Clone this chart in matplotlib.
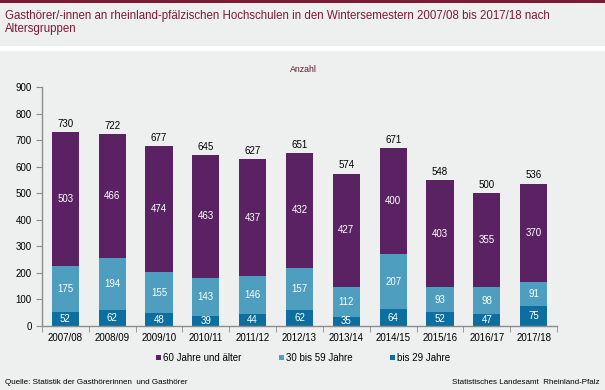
import matplotlib
matplotlib.use("Agg")
import matplotlib.pyplot as plt
import numpy as np
from matplotlib.patches import Rectangle

plt.rcParams['font.family'] = ['Liberation Sans', 'DejaVu Sans']

semesters = ["2007/08", "2008/09", "2009/10", "2010/11", "2011/12", "2012/13",
             "2013/14", "2014/15", "2015/16", "2016/17", "2017/18"]
bis29 = [52, 62, 48, 39, 44, 62, 35, 64, 52, 47, 75]
von30bis59 = [175, 194, 155, 143, 146, 157, 112, 207, 93, 98, 91]
ab60 = [503, 466, 474, 463, 437, 432, 427, 400, 403, 355, 370]
totals = [730, 722, 677, 645, 627, 651, 574, 671, 548, 500, 536]

BG = "#EEEFEF"
C_60 = "#5A2262"
C_30 = "#4E9EC0"
C_29 = "#0D6FA0"
TITLE_COLOR = "#7E1A35"
AXIS_GREY = "#8C8C8C"

fig = plt.figure(figsize=(6.05, 3.9), dpi=100, facecolor=BG)

# top band, white separator under the title
fig.patches.append(Rectangle((0, 1 - 2.5 / 390), 1, 2.5 / 390, transform=fig.transFigure,
                             facecolor="#7E1A35", edgecolor='none', zorder=0))
fig.patches.append(Rectangle((0, 1 - 51 / 390), 1, 5 / 390, transform=fig.transFigure,
                             facecolor="white", edgecolor='none', zorder=0))

fig.text(5 / 605, 1 - 16 / 390, "Gasthörer/-innen an rheinland-pfälzischen Hochschulen in den Wintersemestern 2007/08 bis 2017/18 nach",
         fontsize=8.3, color=TITLE_COLOR, ha='left', va='center')
fig.text(5 / 605, 1 - 29 / 390, "Altersgruppen", fontsize=8.3, color=TITLE_COLOR, ha='left', va='center')
fig.text(303 / 605, 1 - 70 / 390, "Anzahl", fontsize=6.3, color="#5A1A2A", ha='center', va='center')

ax = fig.add_axes([42 / 605, 1 - 326 / 390, (557 - 42) / 605, (326 - 87) / 390])
ax.set_facecolor(BG)

x = np.arange(len(semesters))
w = 0.58
b1 = ax.bar(x, bis29, w, color=C_29, label="bis 29 Jahre", zorder=2)
b2 = ax.bar(x, von30bis59, w, bottom=bis29, color=C_30, label="30 bis 59 Jahre", zorder=2)
bottom3 = np.array(bis29) + np.array(von30bis59)
b3 = ax.bar(x, ab60, w, bottom=bottom3, color=C_60, label="60 Jahre und älter", zorder=2)

for bars in (b1, b2, b3):
    for rect in bars:
        h = rect.get_height()
        ax.text(rect.get_x() + rect.get_width() / 2, rect.get_y() + h / 2, f"{int(h)}",
                ha='center', va='center', color='white', fontsize=7, zorder=3)
for xi, t in zip(x, totals):
    ax.text(xi, t + 12, f"{t}", ha='center', va='bottom', color='black', fontsize=7)

ax.set_xlim(-0.5, len(semesters) - 0.5)
ax.set_ylim(0, 900)
ax.set_yticks(range(0, 901, 100))
ax.set_xticks(x)
ax.set_xticklabels(semesters)
ax.set_xticks(np.arange(-0.5, len(semesters)), minor=True)
ax.tick_params(axis='x', which='major', length=0, labelsize=7, pad=5)
ax.tick_params(axis='x', which='minor', length=4, color=AXIS_GREY, direction='out')
ax.tick_params(axis='y', length=4, color=AXIS_GREY, labelsize=7, direction='out')
for s in ('top', 'right'):
    ax.spines[s].set_visible(False)
for s in ('left', 'bottom'):
    ax.spines[s].set_color(AXIS_GREY)
    ax.spines[s].set_linewidth(1)

handles = [b3, b2, b1]
leg = fig.legend(handles, [h.get_label() for h in handles], loc='center',
                 bbox_to_anchor=(303 / 605, 1 - 358 / 390), ncol=3, frameon=False,
                 fontsize=7, handlelength=0.55, handleheight=0.55, handletextpad=0.2,
                 columnspacing=3.8)

fig.text(5 / 605, 1 - 382 / 390, "Quelle: Statistik der Gasthörerinnen  und Gasthörer",
         fontsize=5.8, color='black', ha='left', va='center')
fig.text(600 / 605, 1 - 382 / 390, "Statistisches Landesamt  Rheinland-Pfalz",
         fontsize=5.8, color='black', ha='right', va='center')

fig.savefig("out.png", dpi=100, facecolor=BG)
